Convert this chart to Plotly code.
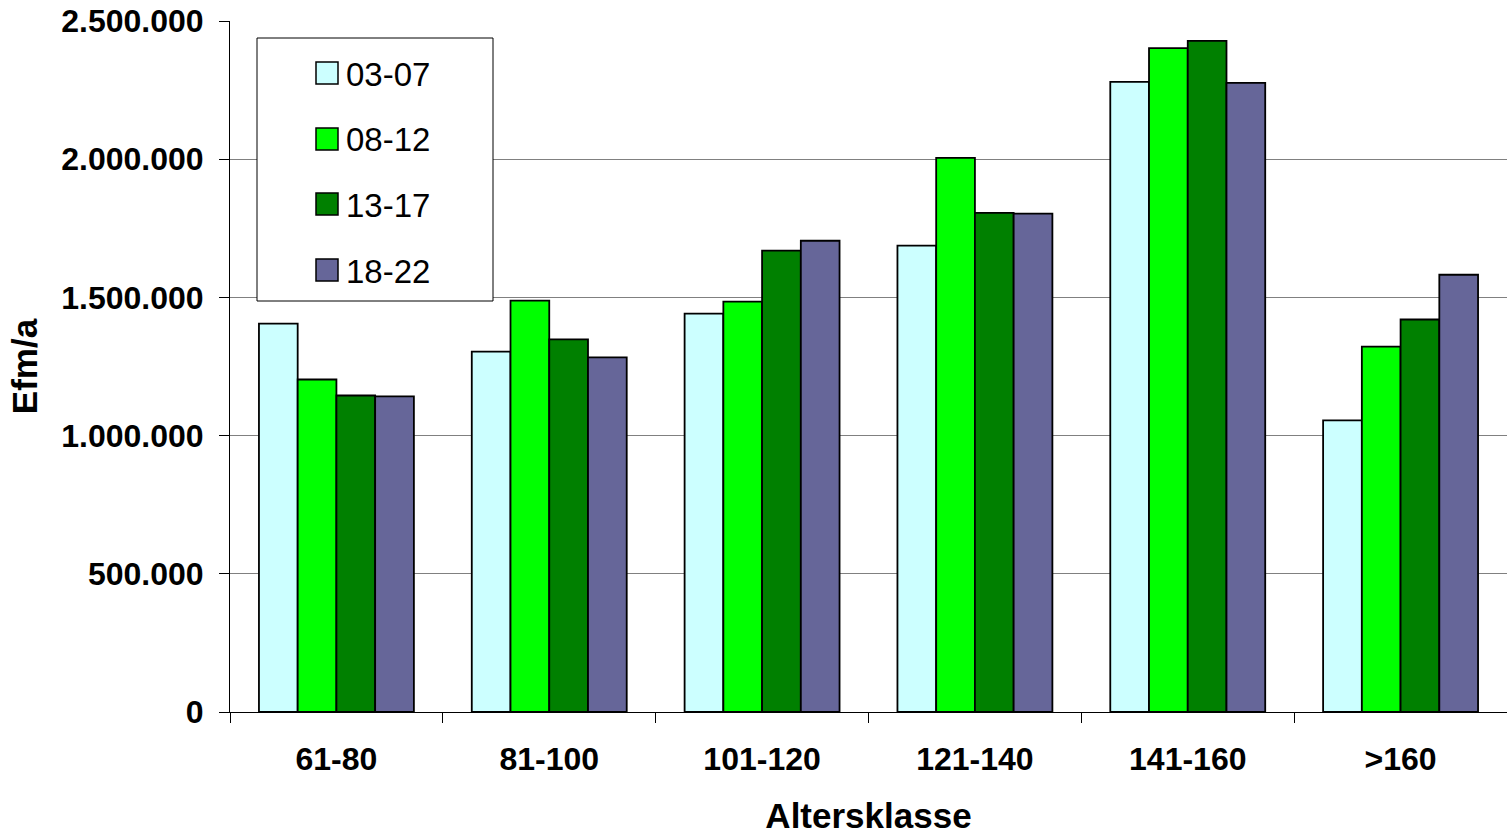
import plotly.graph_objects as go

categories = ["61-80", "81-100", "101-120", "121-140", "141-160", ">160"]
series_names = ["03-07", "08-12", "13-17", "18-22"]
s_03_07 = [1405000, 1304000, 1441000, 1687000, 2280000, 1055000]
s_08_12 = [1203000, 1488000, 1485000, 2005000, 2402000, 1322000]
s_13_17 = [1145000, 1348000, 1669000, 1806000, 2428000, 1420000]
s_18_22 = [1142000, 1283000, 1705000, 1803000, 2276000, 1582000]
colors = ["#CCFFFF", "#00FF00", "#008000", "#666699"]
y_ticks = [0, 500000, 1000000, 1500000, 2000000, 2500000]

W, H = 1507, 839
L, R, T, B = 230, 0, 21, 127
PW, PH = W - L - R, H - T - B

def px(x):
    return (x - L) / PW

def py(y):
    return (H - B - y) / PH

FONT = "Arial, Liberation Sans, sans-serif"

fig = go.Figure()
for i, (name, vals) in enumerate(zip(series_names, [s_03_07, s_08_12, s_13_17, s_18_22])):
    fig.add_trace(go.Bar(
        x=categories, y=vals, name=name, showlegend=False,
        marker=dict(color=colors[i], line=dict(color="black", width=1.8)),
    ))

# manual legend (box, swatches, labels)
shapes = [dict(type="rect", xref="paper", yref="paper",
               x0=px(257), x1=px(493), y0=py(301), y1=py(38),
               line=dict(color="black", width=1), fillcolor="white", layer="above")]
annotations = []
legend_y = [73, 139, 204, 270]
for i, name in enumerate(series_names):
    yc = legend_y[i]
    shapes.append(dict(type="rect", xref="paper", yref="paper",
                       x0=px(316), x1=px(338), y0=py(yc + 11), y1=py(yc - 11),
                       line=dict(color="black", width=1.5), fillcolor=colors[i], layer="above"))
    annotations.append(dict(text=name, xref="paper", yref="paper", x=px(344), y=py(yc + 1),
                            xanchor="left", yanchor="middle", showarrow=False,
                            font=dict(size=33, family=FONT, color="black")))

fig.update_layout(
    width=W, height=H,
    margin=dict(l=L, r=R, t=T, b=B, autoexpand=False),
    paper_bgcolor="white", plot_bgcolor="white",
    separators=",.",
    barmode="group", bargap=0.272, bargroupgap=0,
    font=dict(family=FONT, color="black"),
    showlegend=False,
    shapes=shapes,
    annotations=annotations,
    xaxis=dict(
        tickson="boundaries", ticks="outside", ticklen=10, tickcolor="black", tickwidth=1,
        showline=True, linecolor="black", linewidth=1,
        tickfont=dict(size=32, family=FONT, weight="bold"),
        ticklabelstandoff=19,
        title=dict(text="<b>Altersklasse</b>", font=dict(size=35, family=FONT), standoff=27),
        showgrid=False, automargin=False,
    ),
    yaxis=dict(
        range=[0, 2500000], tickvals=y_ticks, tickformat=",d",
        ticks="outside", ticklen=10, tickcolor="black", tickwidth=1,
        showline=True, linecolor="black", linewidth=1,
        showgrid=True, gridcolor="#808080", gridwidth=1,
        tickfont=dict(size=32, family=FONT, weight="bold"),
        ticklabelstandoff=9,
        title=dict(text="<b>Efm/a</b>", font=dict(size=35, family=FONT), standoff=12),
        zeroline=False, automargin=False,
    ),
)
fig.write_html("out.html", config={"displayModeBar": False},
               post_script="document.body.style.margin='0';")
